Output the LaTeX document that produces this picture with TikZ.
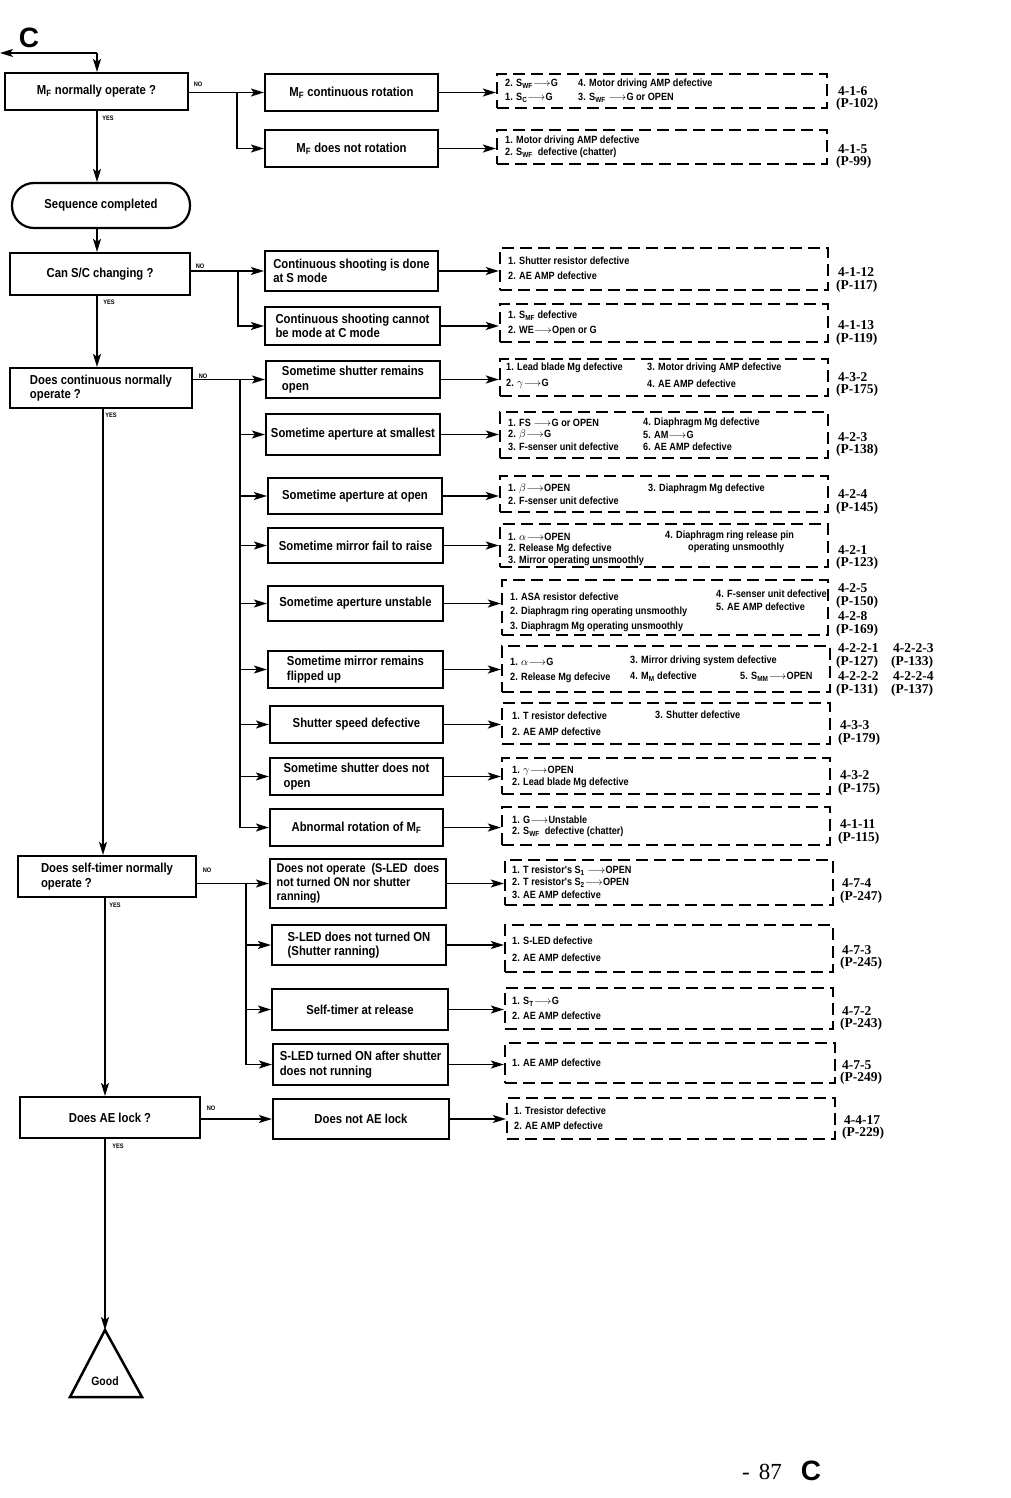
\documentclass[tikz,border=0pt]{standalone}
\usepackage{fontspec}
\setmainfont{Liberation Sans}
\newfontfamily\bxf[FakeStretch=0.87]{Liberation Sans}
\newfontfamily\rff{Liberation Serif}
\usetikzlibrary{arrows.meta,fit}
\newcommand{\tog}{\kern0.3pt\ensuremath{\longrightarrow}\kern0.3pt}
\newcommand{\lsub}[1]{\textsubscript{#1}}
\begin{document}
\begin{tikzpicture}[x=1pt,y=-1pt,
  sbox/.style={draw, line width=2.2pt, inner sep=1pt, align=left, font=\bxf\bfseries\fontsize{13}{14.5}\selectfont},
  dbox/.style={draw, line width=2.3pt, dash pattern=on 12pt off 6pt, inner sep=0pt},
  dtxt/.style={anchor=west, inner sep=0pt, font=\bxf\bfseries\fontsize{10.5}{12}\selectfont},
  rtxt/.style={anchor=west, inner sep=0pt, font=\rff\bfseries\fontsize{13.5}{14}\selectfont},
  yn/.style={inner sep=0pt, font=\bxf\bfseries\fontsize{6.5}{7}\selectfont},
  arr/.style={line width=1.5pt, -{Stealth[length=13pt,width=8pt,inset=3pt]}},
  conn/.style={line width=1.5pt},
]
\newcommand{\sbx}[7][]{\node[sbox,#1, minimum width={(#5-#3)*1pt}, minimum height={(#6-#4)*1pt}] (#2) at ({(#3+#5)/2},{(#4+#6)/2}) {#7};}
\newcommand{\dtx}[4]{\node[dtxt] (#1) at (#2,#3) {#4};}
\newcommand{\rtx}[4]{\node[rtxt] (#1) at (#2,#3) {#4};}
\useasboundingbox (0,0) rectangle (1010,1498);
\fill[white] (0,0) rectangle (1010,1498);

% ---------- decision column ----------
\node[inner sep=0pt, font=\bfseries\fontsize{28}{28}\selectfont] (ctop) at (29,38) {C};
\sbx{q1}{5}{73}{188}{110}{M\lsub{F} normally operate ?}
\sbx[rounded corners=22pt]{seq}{12}{183}{190}{228}{Sequence completed}
\sbx{q2}{10}{253}{190}{295}{Can S/C changing ?}
\sbx{q3}{10}{368}{192}{408}{Does continuous normally\\operate ?}
\sbx{q4}{18}{856}{196}{897}{Does self-timer normally\\operate ?}
\sbx{q5}{20}{1097}{200}{1138}{Does AE lock ?}
\coordinate (gtop) at (105,1330);
\coordinate (gl) at (70,1397);
\coordinate (gr) at (142,1397);
\draw[line width=2.5pt, line join=miter] (gtop) -- (gr) -- (gl) -- cycle;
\node[inner sep=0pt, font=\bxf\bfseries\fontsize{12}{13}\selectfont] (good) at (105,1381) {Good};

\coordinate (cin) at (97,53);
\coordinate (cout) at (0,53);
\coordinate (xa) at (97,0);
\coordinate (xb) at (103,0);
\coordinate (xc) at (105,0);
\draw[arr] (cin) -- (cout);
\draw[arr] (cin) -- (cin |- q1.north);
\draw[arr] (xa |- q1.south) -- (xa |- seq.north);
\draw[arr] (xa |- seq.south) -- (xa |- q2.north);
\draw[arr] (xa |- q2.south) -- (xa |- q3.north);
\draw[arr] (xb |- q3.south) -- (xb |- q4.north);
\draw[arr] (xc |- q4.south) -- (xc |- q5.north);
\draw[arr] (xc |- q5.south) -- (gtop);

% YES / NO labels
\node[yn] (no1) at (198,84) {NO};
\node[yn] (ye1) at (108,118) {YES};
\node[yn] (no2) at (200,266) {NO};
\node[yn] (ye2) at (109,302) {YES};
\node[yn] (no3) at (203,376) {NO};
\node[yn] (ye3) at (111,415) {YES};
\node[yn] (no4) at (207,870) {NO};
\node[yn] (ye4) at (115,905) {YES};
\node[yn] (no5) at (211,1108) {NO};
\node[yn] (ye5) at (118,1146) {YES};

% ---------- solid boxes ----------
\sbx{b1}{265}{74}{438}{111}{M\lsub{F} continuous rotation}
\sbx{b2}{265}{130}{438}{167}{M\lsub{F} does not rotation}
\sbx{b3}{265}{251}{438}{291}{Continuous shooting is done\\at S mode}
\sbx{b4}{265}{307}{440}{345}{Continuous shooting cannot\\be mode at C mode}
\sbx{b5}{266}{361}{440}{398}{Sometime shutter remains\\open}
\sbx{b6}{266}{414}{440}{455}{Sometime aperture at smallest}
\sbx{b7}{268}{478}{442}{514}{Sometime aperture at open}
\sbx{b8}{268}{528}{443}{563}{Sometime mirror fail to raise}
\sbx{b9}{268}{586}{443}{621}{Sometime aperture unstable}
\sbx{b10}{268}{651}{443}{688}{Sometime mirror remains\\flipped up}
\sbx{b11}{270}{706}{443}{743}{Shutter speed defective}
\sbx{b12}{270}{758}{443}{795}{Sometime shutter does not\\open}
\sbx{b13}{270}{809}{443}{846}{Abnormal rotation of M\lsub{F}}
\sbx[font=\bxf\bfseries\fontsize{12.5}{14}\selectfont]{b14}{270}{859}{446}{908}{Does not operate\ \ (S-LED\ \ does\\not turned ON nor shutter\\ranning)}
\sbx{b15}{272}{925}{446}{965}{S-LED does not turned ON\\(Shutter ranning)}
\sbx{b16}{272}{989}{448}{1030}{Self-timer at release}
\sbx{b17}{273}{1044}{448}{1085}{S-LED turned ON after shutter\\does not running}
\sbx{b18}{273}{1099}{449}{1139}{Does not AE lock}

% ---------- NO branches ----------
\coordinate (br1) at (237,0);
\coordinate (br2) at (238,0);
\coordinate (br3) at (240,0);
\coordinate (br4) at (246,0);
\draw[arr] (q1.east |- b1.west) -- (b1.west);
\draw[arr] (br1 |- b1.west) |- (b2.west);
\draw[arr] (q2.east |- b3.west) -- (b3.west);
\draw[arr] (br2 |- b3.west) |- (b4.west);
\draw[arr] (q3.east |- b5.west) -- (b5.west);
\draw[conn] (br3 |- b5.west) -- (br3 |- b13.west);
\foreach \b in {b6,b7,b8,b9,b10,b11,b12,b13} {\draw[arr] (br3 |- \b.west) -- (\b.west);}
\draw[arr] (q4.east |- b14.west) -- (b14.west);
\draw[conn] (br4 |- b14.west) -- (br4 |- b17.west);
\foreach \b in {b15,b16,b17} {\draw[arr] (br4 |- \b.west) -- (\b.west);}
\draw[arr] (q5.east |- b18.west) -- (b18.west);

% ---------- dashed boxes ----------
\node[dbox, fit={(497,74) (827,108)}] (d1) {};
\node[dbox, fit={(497,130) (827,164)}] (d2) {};
\node[dbox, fit={(500,248) (828,290)}] (d3) {};
\node[dbox, fit={(500,304) (828,342)}] (d4) {};
\node[dbox, fit={(500,359) (828,396)}] (d5) {};
\node[dbox, fit={(500,412) (828,458)}] (d6) {};
\node[dbox, fit={(500,476) (828,512)}] (d7) {};
\node[dbox, fit={(500,524) (828,567)}] (d8) {};
\node[dbox, fit={(502,580) (828,635)}] (d9) {};
\node[dbox, fit={(502,646) (830,692)}] (d10) {};
\node[dbox, fit={(502,703) (830,744)}] (d11) {};
\node[dbox, fit={(502,758) (830,794)}] (d12) {};
\node[dbox, fit={(502,807) (830,845)}] (d13) {};
\node[dbox, fit={(505,860) (833,905)}] (d14) {};
\node[dbox, fit={(505,925) (833,972)}] (d15) {};
\node[dbox, fit={(505,988) (833,1029)}] (d16) {};
\node[dbox, fit={(505,1043) (835,1083)}] (d17) {};
\node[dbox, fit={(507,1098) (835,1139)}] (d18) {};

\foreach \i in {1,...,18} {\draw[arr] (b\i.east) -- (b\i.east -| d\i.west);}

% ---------- dashed box texts ----------
\dtx{t1a}{505}{84}{2. S\lsub{WF}\tog G}
\dtx{t1b}{505}{98}{1. S\lsub{C}\tog G}
\dtx{t1c}{578}{84}{4. Motor driving AMP defective}
\dtx{t1d}{578}{98}{3. S\lsub{WF} \tog G or OPEN}

\dtx{t2a}{505}{141}{1. Motor driving AMP defective}
\dtx{t2b}{505}{153}{2. S\lsub{WF}\ \ defective (chatter)}

\dtx{t3a}{508}{261}{1. Shutter resistor defective}
\dtx{t3b}{508}{276}{2. AE AMP defective}

\dtx{t4a}{508}{316}{1. S\lsub{MF} defective}
\dtx{t4b}{508}{331}{2. WE\tog Open or G}

\dtx{t5a}{506}{368}{1. Lead blade Mg defective}
\dtx{t5b}{506}{384}{2. $\gamma$\tog G}
\dtx{t5c}{647}{368}{3. Motor driving AMP defective}
\dtx{t5d}{647}{384}{4. AE AMP defective}

\dtx{t6a}{508}{423}{1. FS \tog G or OPEN}
\dtx{t6b}{508}{435}{2. $\beta$\tog G}
\dtx{t6c}{508}{447}{3. F-senser unit defective}
\dtx{t6d}{643}{423}{4. Diaphragm Mg defective}
\dtx{t6e}{643}{435}{5. AM\tog G}
\dtx{t6f}{643}{447}{6. AE AMP defective}

\dtx{t7a}{508}{489}{1. $\beta$\tog OPEN}
\dtx{t7b}{508}{501}{2. F-senser unit defective}
\dtx{t7c}{648}{489}{3. Diaphragm Mg defective}

\dtx{t8a}{508}{537}{1. $\alpha$\tog OPEN}
\dtx{t8b}{508}{549}{2. Release Mg defective}
\dtx{t8c}{508}{561}{3. Mirror operating unsmoothly}
\dtx{t8d}{665}{536}{4. Diaphragm ring release pin}
\dtx{t8e}{688}{548}{operating unsmoothly}

\dtx{t9a}{510}{597}{1. ASA resistor defective}
\dtx{t9b}{510}{612}{2. Diaphragm ring operating unsmoothly}
\dtx{t9c}{510}{627}{3. Diaphragm Mg operating unsmoothly}
\dtx{t9d}{716}{594}{4. F-senser unit defective}
\dtx{t9e}{716}{607}{5. AE AMP defective}

\dtx{t10a}{510}{662}{1. $\alpha$\tog G}
\dtx{t10b}{510}{678}{2. Release Mg defecive}
\dtx{t10c}{630}{661}{3. Mirror driving system defective}
\dtx{t10d}{630}{677}{4. M\lsub{M} defective}
\dtx{t10e}{740}{677}{5. S\lsub{MM}\tog OPEN}

\dtx{t11a}{512}{716}{1. T resistor defective}
\dtx{t11b}{512}{732}{2. AE AMP defective}
\dtx{t11c}{655}{715}{3. Shutter defective}

\dtx{t12a}{512}{771}{1. $\gamma$\tog OPEN}
\dtx{t12b}{512}{783}{2. Lead blade Mg defective}

\dtx{t13a}{512}{820}{1. G\tog Unstable}
\dtx{t13b}{512}{832}{2. S\lsub{WF}\ \ defective (chatter)}

\dtx{t14a}{512}{871}{1. T resistor's S\lsub{1} \tog OPEN}
\dtx{t14b}{512}{883}{2. T resistor's S\lsub{2}\tog OPEN}
\dtx{t14c}{512}{895}{3. AE AMP defective}

\dtx{t15a}{512}{941}{1. S-LED defective}
\dtx{t15b}{512}{958}{2. AE AMP defective}

\dtx{t16a}{512}{1002}{1. S\lsub{T}\tog G}
\dtx{t16b}{512}{1016}{2. AE AMP defective}

\dtx{t17a}{512}{1063}{1. AE AMP defective}

\dtx{t18a}{514}{1111}{1. Tresistor defective}
\dtx{t18b}{514}{1126}{2. AE AMP defective}

% ---------- reference numbers ----------
\rtx{r1a}{838}{91}{4-1-6}
\rtx{r1b}{836}{104}{(P-102)}
\rtx{r2a}{838}{149}{4-1-5}
\rtx{r2b}{836}{162}{(P-99)}
\rtx{r3a}{838}{272}{4-1-12}
\rtx{r3b}{836}{286}{(P-117)}
\rtx{r4a}{838}{325}{4-1-13}
\rtx{r4b}{836}{339}{(P-119)}
\rtx{r5a}{838}{377}{4-3-2}
\rtx{r5b}{836}{390}{(P-175)}
\rtx{r6a}{838}{437}{4-2-3}
\rtx{r6b}{836}{450}{(P-138)}
\rtx{r7a}{838}{494}{4-2-4}
\rtx{r7b}{836}{508}{(P-145)}
\rtx{r8a}{838}{550}{4-2-1}
\rtx{r8b}{836}{563}{(P-123)}
\rtx{r9a}{838}{588}{4-2-5}
\rtx{r9b}{836}{602}{(P-150)}
\rtx{r9c}{838}{616}{4-2-8}
\rtx{r9d}{836}{630}{(P-169)}
\rtx{r10a}{838}{648}{4-2-2-1}
\rtx{r10b}{836}{662}{(P-127)}
\rtx{r10c}{838}{676}{4-2-2-2}
\rtx{r10d}{836}{690}{(P-131)}
\rtx{r10e}{893}{648}{4-2-2-3}
\rtx{r10f}{891}{662}{(P-133)}
\rtx{r10g}{893}{676}{4-2-2-4}
\rtx{r10h}{891}{690}{(P-137)}
\rtx{r11a}{840}{725}{4-3-3}
\rtx{r11b}{838}{739}{(P-179)}
\rtx{r12a}{840}{775}{4-3-2}
\rtx{r12b}{838}{789}{(P-175)}
\rtx{r13a}{840}{824}{4-1-11}
\rtx{r13b}{838}{838}{(P-115)}
\rtx{r14a}{842}{883}{4-7-4}
\rtx{r14b}{840}{897}{(P-247)}
\rtx{r15a}{842}{950}{4-7-3}
\rtx{r15b}{840}{963}{(P-245)}
\rtx{r16a}{842}{1011}{4-7-2}
\rtx{r16b}{840}{1024}{(P-243)}
\rtx{r17a}{842}{1065}{4-7-5}
\rtx{r17b}{840}{1078}{(P-249)}
\rtx{r18a}{844}{1120}{4-4-17}
\rtx{r18b}{842}{1133}{(P-229)}

% ---------- page number ----------
\node[inner sep=0pt, anchor=west, font=\rff\fontsize{23}{25}\selectfont] (pg) at (742,1472) {-\hspace{9pt}87};
\node[inner sep=0pt, font=\bfseries\fontsize{28}{28}\selectfont] (cend) at (811,1471) {C};
\end{tikzpicture}
\end{document}
